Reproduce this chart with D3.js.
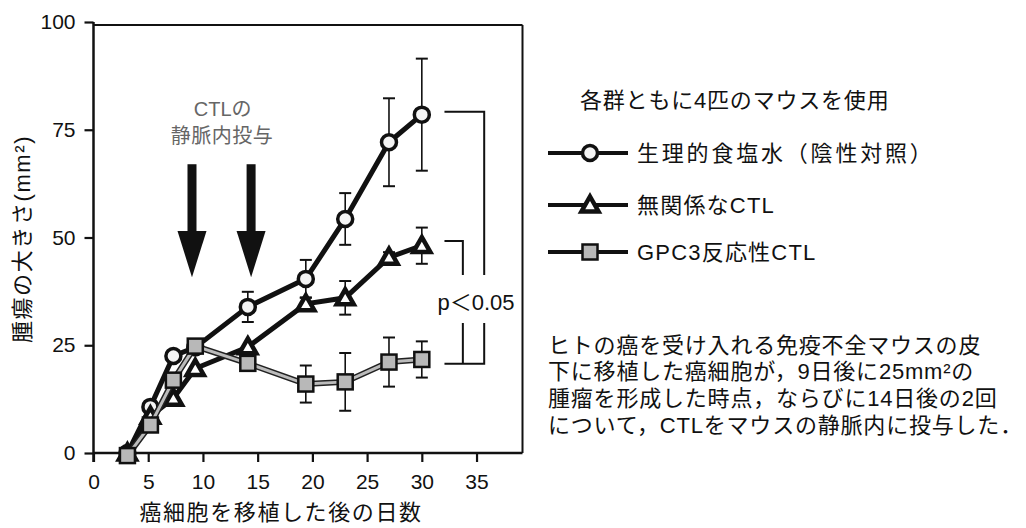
<!DOCTYPE html>
<html><head><meta charset="utf-8">
<script src="https://cdn.jsdelivr.net/npm/d3@7/dist/d3.min.js"></script>
<style>
html,body{margin:0;padding:0;background:#fff;}
svg{display:block;}
text{font-family:"Liberation Sans","Noto Sans CJK JP",Arial,sans-serif;fill:#111;}
</style></head>
<body>
<script>
// ---- data ----
const days = [3.1, 5.2, 7.3, 9.3, 14.1, 19.4, 23, 27, 30];
const saline = [0, 10.7, 22.5, 24.5, 33.9, 40.4, 54.3, 72.1, 78.5];
const salineErr = [0, 0, 0, 0, 3.5, 4.4, 6.0, 10.2, 13.0];
const irrelevant = [0, 8.5, 12.7, 19.6, 24.6, 34.6, 36.0, 45.4, 48.1];
const irrelevantErr = [0, 0, 0, 0, 0, 1.5, 3.9, 1.2, 4.2];
const gpc3 = [-0.6, 6.5, 16.9, 24.8, 20.8, 16.0, 16.5, 21.1, 21.7];
const gpc3Err = [0, 0, 0, 0, 0.8, 4.3, 6.7, 5.7, 4.2];
const xTicks = [0, 5, 10, 15, 20, 25, 30, 35];
const yTicks = [0, 25, 50, 75, 100];
const seriesNames = ["生理的食塩水（陰性対照）", "無関係なCTL", "GPC3反応性CTL"];
const injectionDays = [9.0, 14.4];
const legendTitle = "各群ともに4匹のマウスを使用";
const noteLines = ["ヒトの癌を受け入れる免疫不全マウスの皮", "下に移植した癌細胞が，9日後に25mm²の", "腫瘤を形成した時点，ならびに14日後の2回", "について，CTLをマウスの静脈内に投与した．"];

const W = 1026, H = 528;
const svg = d3.select("body").append("svg").attr("width", W).attr("height", H);

const x = d3.scaleLinear().domain([0, 39.2]).range([93.5, 522.5]);
const y = d3.scaleLinear().domain([0, 100]).range([453, 22]);

// frame
const fr = svg.append("g").attr("stroke", "#111").attr("stroke-width", 2).attr("fill", "none");
fr.append("line").attr("x1", x(0)).attr("x2", x(39.2)).attr("y1", y(100) + 3).attr("y2", y(100) + 3);
fr.append("line").attr("x1", x(39.2)).attr("x2", x(39.2)).attr("y1", y(100) + 3).attr("y2", y(0));
fr.append("line").attr("x1", x(0)).attr("x2", x(39.2)).attr("y1", y(0)).attr("y2", y(0)).attr("stroke-width", 2.5);
fr.append("line").attr("x1", x(0)).attr("x2", x(0)).attr("y1", y(100)).attr("y2", y(0) + 9).attr("stroke-width", 2.5);

// axes
const yAx = svg.append("g").attr("transform", `translate(${x(0)},0)`)
  .call(d3.axisLeft(y).tickValues(yTicks).tickSize(9).tickPadding(9));
yAx.select(".domain").remove();
yAx.selectAll("line").attr("stroke", "#111").attr("stroke-width", 2.2);
yAx.selectAll("text").style("font-size", "21px").style("font-family", "Liberation Sans, Arial");

const xAx = svg.append("g").attr("transform", `translate(0,${y(0)})`)
  .call(d3.axisBottom(x).tickValues(xTicks).tickSize(9).tickPadding(12));
xAx.select(".domain").remove();
xAx.selectAll("line").attr("stroke", "#111").attr("stroke-width", 2.2);
xAx.selectAll("text").style("font-size", "21px").style("font-family", "Liberation Sans, Arial");

// axis titles
svg.append("text").attr("x", 281).attr("y", 512).attr("text-anchor", "middle")
  .attr("dominant-baseline", "central").style("font-size", "22px").style("letter-spacing", "1.6px")
  .text("癌細胞を移植した後の日数");
svg.append("text").attr("transform", "translate(22,239) rotate(-90)").attr("text-anchor", "middle")
  .attr("dominant-baseline", "central").style("font-size", "22px").style("letter-spacing", "1.6px")
  .text("腫瘍の大きさ(mm²)");

// arrows and annotation
injectionDays.forEach(d => {
  const cx = x(d);
  svg.append("rect").attr("x", cx - 4.5).attr("y", y(67)).attr("width", 9).attr("height", y(51.5) - y(67)).attr("fill", "#111");
  svg.append("path").attr("d", `M${cx - 14.5},${y(51.5)} L${cx + 14.5},${y(51.5)} L${cx},${y(40.8)} Z`).attr("fill", "#111");
});
svg.append("text").attr("x", x(11.8)).attr("y", 109).attr("text-anchor", "middle").attr("dominant-baseline", "central")
  .style("font-size", "20px").style("fill", "#666").text("CTLの");
svg.append("text").attr("x", x(11.75)).attr("y", 136).attr("text-anchor", "middle").attr("dominant-baseline", "central")
  .style("font-size", "20px").style("fill", "#666").style("letter-spacing", "0.5px").text("静脈内投与");

// brackets
const br = svg.append("g").attr("stroke", "#111").attr("stroke-width", 2).attr("fill", "none");
const bx0 = x(32.07), bx1 = x(33.75), bx2 = x(35.7);
const gapTop = 275, gapBot = 323;
br.append("path").attr("d", `M${bx0},${y(79.2)} H${bx2} V${gapTop} M${bx2},${gapBot} V${y(20.7)} H${bx0}`);
br.append("path").attr("d", `M${bx0},${y(49.2)} H${bx1} V${gapTop} M${bx1},${gapBot} V${y(20.7)}`);
svg.append("text").attr("x", 476).attr("y", 302).attr("text-anchor", "middle").attr("dominant-baseline", "central")
  .style("font-size", "22px").text("p＜0.05");

// series
const line = d3.line().x((d, i) => x(days[i])).y(d => y(d));
function errorBars(vals, errs) {
  const g = svg.append("g").attr("stroke", "#111").attr("stroke-width", 1.6);
  vals.forEach((v, i) => {
    if (!errs[i]) return;
    const cx = x(days[i]);
    g.append("line").attr("x1", cx).attr("x2", cx).attr("y1", y(v - errs[i])).attr("y2", y(v + errs[i]));
    [v - errs[i], v + errs[i]].forEach(e => g.append("line").attr("x1", cx - 6).attr("x2", cx + 6).attr("y1", y(e)).attr("y2", y(e)).attr("stroke-width", 2));
  });
}
errorBars(saline, salineErr);
errorBars(irrelevant, irrelevantErr);
errorBars(gpc3, gpc3Err);

function drawCircle(g, cx, cy) {
  g.append("circle").attr("cx", cx).attr("cy", cy).attr("r", 7.5).attr("fill", "#f4f4f4").attr("stroke", "#111").attr("stroke-width", 3.5);
}
function drawTri(g, cx, cy) {
  const s = 8.5;
  g.append("path").attr("d", `M${cx},${cy - s} L${cx + s},${cy + s * 0.75} L${cx - s},${cy + s * 0.75} Z`)
    .attr("fill", "#fff").attr("stroke", "#111").attr("stroke-width", 4.5).attr("stroke-linejoin", "miter");
}
function drawSq(g, cx, cy) {
  g.append("rect").attr("x", cx - 7.5).attr("y", cy - 7.5).attr("width", 15).attr("height", 15)
    .attr("fill", "#b8b8b8").attr("stroke", "#111").attr("stroke-width", 2.5);
}

svg.append("path").datum(saline).attr("d", line).attr("fill", "none").attr("stroke", "#111").attr("stroke-width", 5);
const gS = svg.append("g");
saline.forEach((v, i) => drawCircle(gS, x(days[i]), y(v)));

svg.append("path").datum(irrelevant).attr("d", line).attr("fill", "none").attr("stroke", "#111").attr("stroke-width", 5);
const gT = svg.append("g");
irrelevant.forEach((v, i) => drawTri(gT, x(days[i]), y(v)));

svg.append("path").datum(gpc3).attr("d", line).attr("fill", "none").attr("stroke", "#222").attr("stroke-width", 6);
svg.append("path").datum(gpc3).attr("d", line).attr("fill", "none").attr("stroke", "#bbb").attr("stroke-width", 3);
const gQ = svg.append("g");
gpc3.forEach((v, i) => drawSq(gQ, x(days[i]), y(v)));

// legend
svg.append("text").attr("x", 580).attr("y", 100).attr("dominant-baseline", "central")
  .style("font-size", "22px").style("letter-spacing", "0.8px").text(legendTitle);
const legY = [153, 205, 252];
const drawers = [drawCircle, drawTri, drawSq];
seriesNames.forEach((n, i) => {
  const g = svg.append("g");
  g.append("line").attr("x1", 548).attr("x2", 628).attr("y1", legY[i]).attr("y2", legY[i]).attr("stroke", "#111").attr("stroke-width", 4);
  drawers[i](g, 590, legY[i]);
  g.append("text").attr("x", 637).attr("y", legY[i]).attr("dominant-baseline", "central")
    .style("font-size", "22px").style("letter-spacing", i === 0 ? "2.8px" : "1.2px").text(n);
});

// note
noteLines.forEach((t, i) => {
  svg.append("text").attr("x", 548).attr("y", 345 + i * 26.7).attr("dominant-baseline", "central")
    .style("font-size", "22px").style("letter-spacing", "0.8px").text(t);
});
</script>
</body></html>
